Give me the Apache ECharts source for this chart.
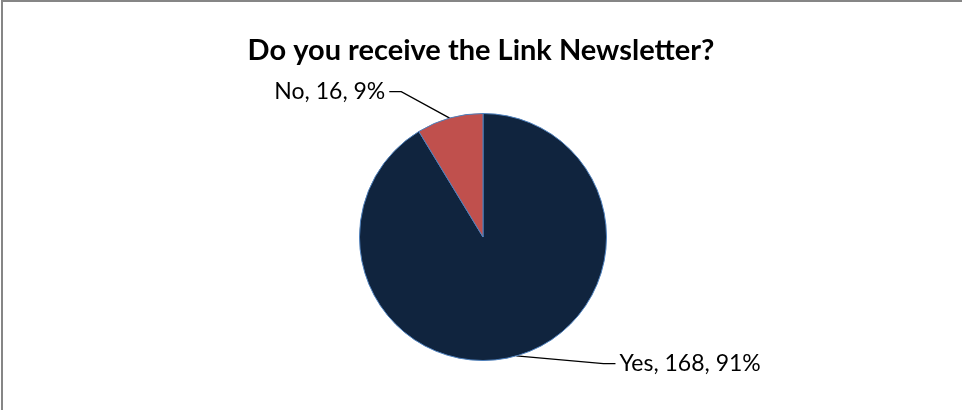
<!DOCTYPE html>
<html>
<head>
<meta charset="utf-8">
<script src="https://cdn.jsdelivr.net/npm/echarts@6/dist/echarts.min.js"></script>
<style>
html,body{margin:0;padding:0;background:#fff;}
#chart{width:962px;height:410px;}
</style>
</head>
<body>
<div id="chart"></div>
<script>
const titleText = 'Do you receive the Link Newsletter?';
const categories = ['Yes', 'No'];
const values = [168, 16];
const colors = ['#10243E', '#C0504D'];

// leader-line geometry per category (style, not data)
const leaderStyle = {
  Yes: {length: 8, length2: 97},
  No: {length: 27.5, length2: 53}
};

const chart = echarts.init(document.getElementById('chart'), null, {renderer: 'canvas'});
const data = categories.map((c, i) => ({
  name: c,
  value: values[i],
  itemStyle: {color: colors[i]},
  labelLine: leaderStyle[c]
}));

chart.setOption({
  animation: false,
  backgroundColor: '#ffffff',
  title: {
    text: titleText,
    left: 'center',
    top: 31,
    textStyle: {fontFamily: 'Lato', fontWeight: 'bold', fontSize: 29, color: '#000'}
  },
  graphic: [{
    type: 'rect',
    shape: {x: 2, y: 1, width: 1200, height: 600},
    style: {fill: 'none', stroke: '#868686', lineWidth: 2},
    silent: true
  }],
  series: [{
    type: 'pie',
    center: [483, 237],
    radius: 123.5,
    startAngle: 90,
    clockwise: true,
    data: data,
    itemStyle: {borderColor: '#4F81BD', borderWidth: 1},
    label: {
      show: true,
      position: 'outside',
      fontFamily: 'Lato',
      fontSize: 23,
      color: '#000',
      distanceToLabelLine: 4,
      formatter: p => p.name + ', ' + p.value + ', ' + Math.round(p.percent) + '%'
    },
    labelLine: {
      show: true,
      lineStyle: {color: '#000', width: 1.3}
    },
    labelLayout: function (params) {
      const pts = params.labelLinePoints;
      if (!pts) return {};
      const end = pts[2];
      const isLeft = end[0] < pts[0][0];
      pts[1] = [end[0] + (isLeft ? 12 : -12), end[1]];
      return {labelLinePoints: pts};
    },
    emphasis: {disabled: true}
  }]
});
</script>
</body>
</html>
